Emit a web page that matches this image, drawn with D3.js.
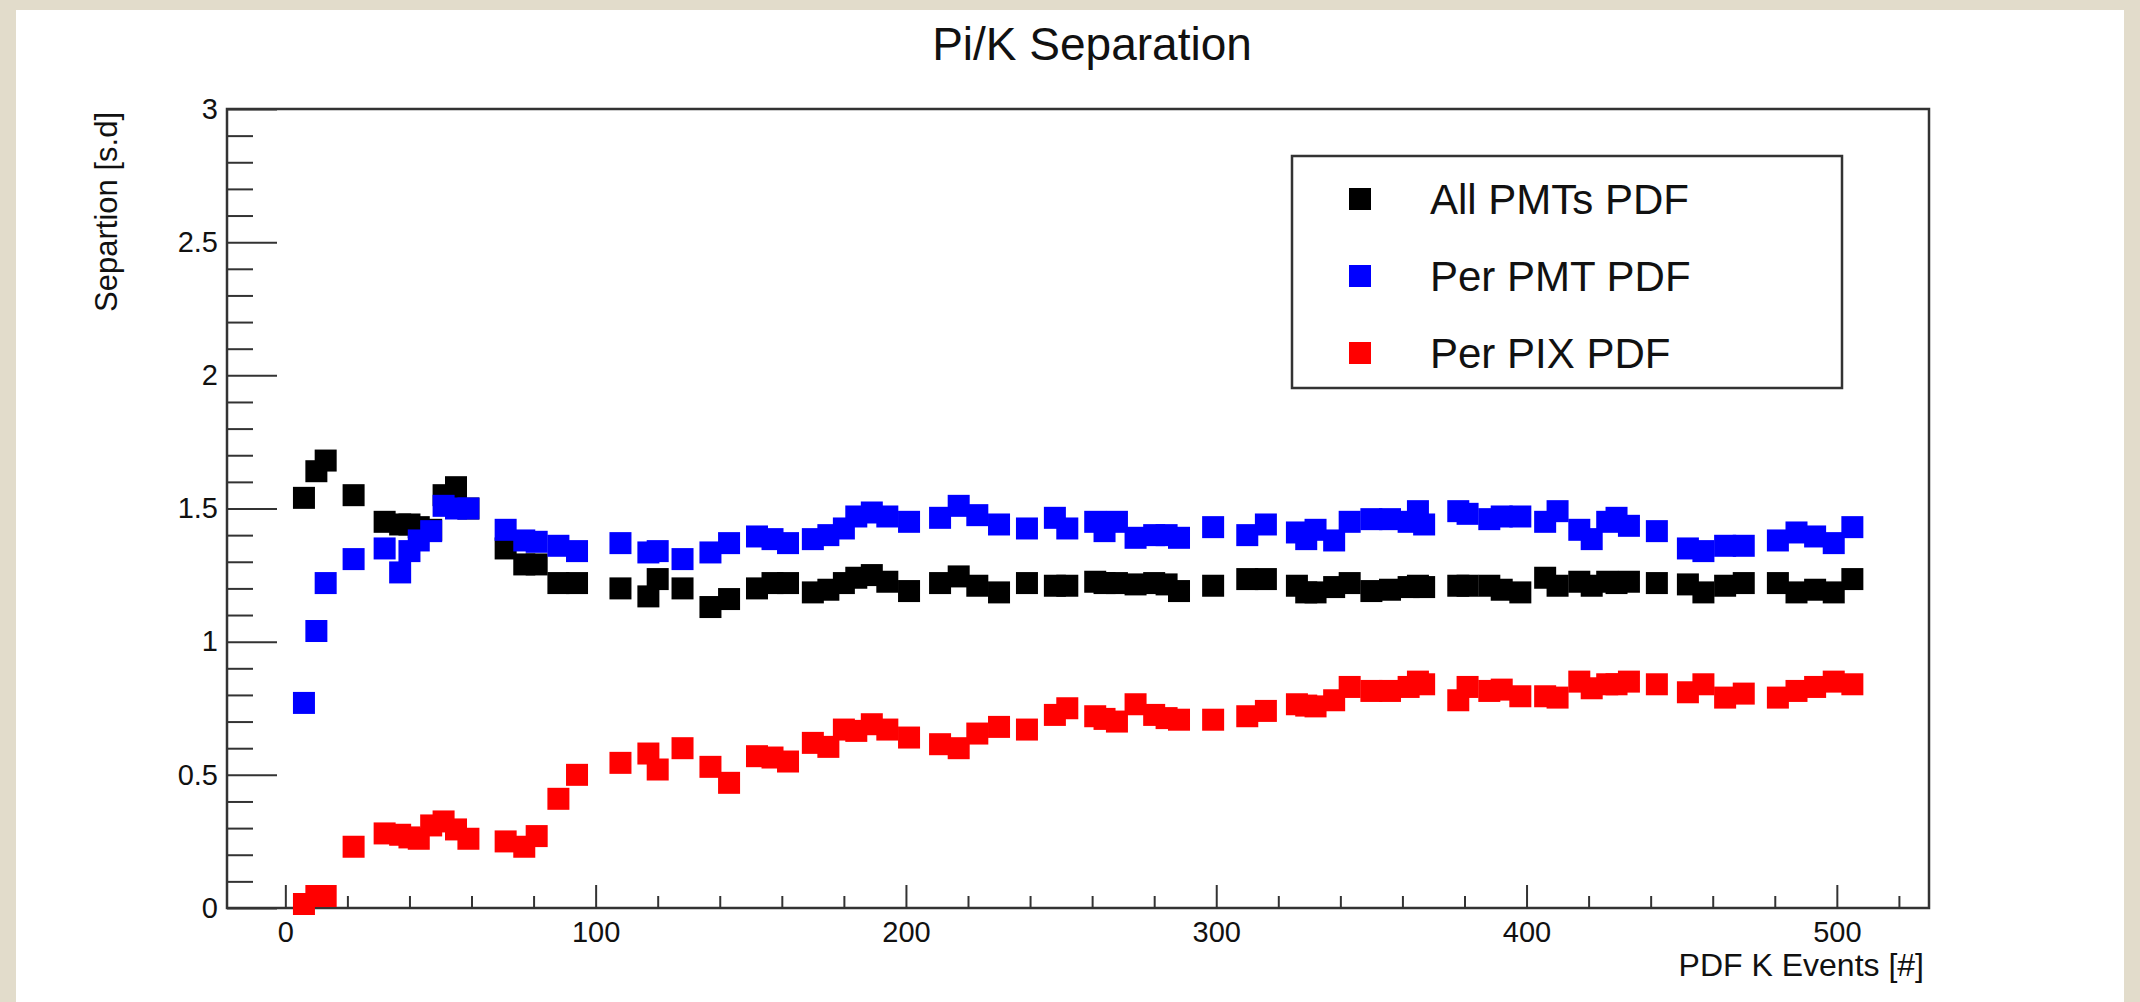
<!DOCTYPE html>
<html>
<head>
<meta charset="utf-8">
<script src="https://cdn.jsdelivr.net/npm/d3@7"></script>
<style>
    body { margin: 0; background: #e2dccb; }
    svg { display: block; }
    text { font-family: "Liberation Sans", Arial, Helvetica, sans-serif; fill: #111; }
</style>
</head>
<body>
<svg id="chart" width="2140" height="1002"></svg>
<script>
// PDF K events (x) shared by all three series
const kEvents = [6, 10, 13, 22, 32, 37, 40, 43, 47, 51, 55, 59, 71, 77, 81, 88, 94, 108, 117, 120,
    128, 137, 143, 152, 157, 162, 170, 175, 180, 184, 189, 194, 201, 211, 217, 223, 230, 239, 248, 252,
    261, 264, 268, 274, 280, 284, 288, 299, 310, 316, 326, 329, 332, 338, 343, 350, 356, 362, 365, 367,
    378, 381, 388, 392, 398, 406, 410, 417, 421, 426, 429, 433, 442, 452, 457, 464, 470, 481, 487, 493,
    499, 505];

const allPmtsPdf = [1.54, 1.64, 1.68, 1.55, 1.45, 1.44, 1.44, 1.43, 1.42, 1.55, 1.58, 1.50, 1.35, 1.29, 1.29, 1.22, 1.22, 1.20, 1.17, 1.235,
    1.20, 1.13, 1.16, 1.20, 1.22, 1.22, 1.185, 1.195, 1.22, 1.24, 1.25, 1.225, 1.19, 1.22, 1.245, 1.21, 1.185, 1.22, 1.21, 1.21,
    1.225, 1.22, 1.22, 1.215, 1.22, 1.215, 1.19, 1.21, 1.235, 1.235, 1.21, 1.185, 1.185, 1.205, 1.22, 1.19, 1.195, 1.205, 1.21, 1.205,
    1.21, 1.21, 1.21, 1.195, 1.185, 1.24, 1.21, 1.225, 1.21, 1.225, 1.22, 1.225, 1.22, 1.215, 1.185, 1.21, 1.22, 1.22, 1.185, 1.195,
    1.185, 1.235];

const perPmtPdf = [0.77, 1.04, 1.22, 1.31, 1.35, 1.26, 1.34, 1.38, 1.415, 1.51, 1.50, 1.50, 1.42, 1.38, 1.375, 1.36, 1.34, 1.37, 1.335, 1.34,
    1.31, 1.335, 1.37, 1.395, 1.385, 1.37, 1.385, 1.40, 1.425, 1.47, 1.485, 1.47, 1.45, 1.465, 1.51, 1.475, 1.44, 1.425, 1.465, 1.425,
    1.45, 1.415, 1.45, 1.39, 1.40, 1.40, 1.39, 1.43, 1.40, 1.44, 1.41, 1.385, 1.42, 1.38, 1.45, 1.46, 1.46, 1.45, 1.49, 1.44,
    1.49, 1.48, 1.46, 1.47, 1.47, 1.45, 1.49, 1.42, 1.385, 1.45, 1.465, 1.435, 1.415, 1.35, 1.34, 1.36, 1.36, 1.38, 1.41, 1.395,
    1.37, 1.43];

const perPixPdf = [0.015, 0.045, 0.045, 0.23, 0.28, 0.275, 0.265, 0.26, 0.31, 0.325, 0.295, 0.26, 0.25, 0.23, 0.27, 0.41, 0.50, 0.545, 0.58, 0.52,
    0.60, 0.53, 0.47, 0.57, 0.565, 0.55, 0.62, 0.605, 0.67, 0.665, 0.69, 0.67, 0.64, 0.615, 0.60, 0.655, 0.68, 0.67, 0.725, 0.75,
    0.72, 0.71, 0.70, 0.765, 0.725, 0.713, 0.707, 0.707, 0.72, 0.74, 0.765, 0.76, 0.757, 0.78, 0.83, 0.815, 0.815, 0.83, 0.85, 0.84,
    0.78, 0.83, 0.815, 0.82, 0.795, 0.795, 0.79, 0.85, 0.825, 0.84, 0.84, 0.85, 0.84, 0.81, 0.84, 0.79, 0.805, 0.79, 0.815, 0.83,
    0.85, 0.84];

const seriesNames = ["All PMTs PDF", "Per PMT PDF", "Per PIX PDF"];
const seriesColors = ["#000000", "#0000ff", "#ff0000"];

const xMajorTicks = [0, 100, 200, 300, 400, 500];
const xMinorTicks = [20, 40, 60, 80, 120, 140, 160, 180, 220, 240, 260, 280, 320, 340, 360, 380, 420, 440, 460, 480, 520];
const yMajorTicks = [0, 0.5, 1, 1.5, 2, 2.5, 3];
const yMinorTicks = [0.1, 0.2, 0.3, 0.4, 0.6, 0.7, 0.8, 0.9, 1.1, 1.2, 1.3, 1.4, 1.6, 1.7, 1.8, 1.9,
    2.1, 2.2, 2.3, 2.4, 2.6, 2.7, 2.8, 2.9];

const plot = {left: 227, right: 1929, top: 109, bottom: 908};
const markerSize = 22;
const lineColor = "#333";

let svg = d3.select("#chart");

// white page over the linen background
svg.append("rect")
    .attr("x", 16).attr("y", 10)
    .attr("width", 2108).attr("height", 992)
    .style("fill", "white");

let x = d3.scaleLinear().domain([-18.8, 529.7]).range([plot.left, plot.right]);
let y = d3.scaleLinear().domain([0, 3]).range([plot.bottom, plot.top]);

// minor ticks first, then majors with labels
svg.append("g")
    .attr("transform", `translate(0,${plot.bottom})`)
    .call(d3.axisBottom(x).tickValues(xMinorTicks).tickSize(-12).tickFormat(""));
svg.append("g")
    .attr("class", "xaxis")
    .attr("transform", `translate(0,${plot.bottom})`)
    .call(d3.axisBottom(x).tickValues(xMajorTicks).tickSize(-23).tickPadding(13).tickFormat(d3.format("d")));

svg.append("g")
    .attr("transform", `translate(${plot.left},0)`)
    .call(d3.axisLeft(y).tickValues(yMinorTicks).tickSize(-26).tickFormat(""));
svg.append("g")
    .attr("class", "yaxis")
    .attr("transform", `translate(${plot.left},0)`)
    .call(d3.axisLeft(y).tickValues(yMajorTicks).tickSize(-50).tickPadding(9).tickFormat(d => d3.format("")(d)));

svg.selectAll(".domain").remove();
svg.selectAll(".tick line").style("stroke", lineColor).style("stroke-width", 2);
svg.selectAll(".xaxis text, .yaxis text").style("font-size", "29px").style("fill", "#111");

// frame
svg.append("rect")
    .attr("x", plot.left).attr("y", plot.top)
    .attr("width", plot.right - plot.left).attr("height", plot.bottom - plot.top)
    .style("fill", "none")
    .style("stroke", lineColor)
    .style("stroke-width", 2.5);

// markers
let series = [allPmtsPdf, perPmtPdf, perPixPdf];
series.forEach(function (values, i) {
    let points = kEvents.map((k, j) => ({k: k, v: values[j]}));
    svg.append("g")
        .selectAll("rect")
        .data(points)
        .join("rect")
        .attr("x", d => x(d.k) - markerSize / 2)
        .attr("y", d => y(d.v) - markerSize / 2)
        .attr("width", markerSize)
        .attr("height", markerSize)
        .style("fill", seriesColors[i]);
});

// title and axis titles
svg.append("text")
    .attr("x", 1092).attr("y", 60)
    .attr("text-anchor", "middle")
    .style("font-size", "46px")
    .text("Pi/K Separation");

svg.append("text")
    .attr("x", 1924).attr("y", 976)
    .attr("text-anchor", "end")
    .style("font-size", "32px")
    .text("PDF K Events [#]");

svg.append("text")
    .attr("transform", "translate(117,112) rotate(-90)")
    .attr("text-anchor", "end")
    .style("font-size", "31px")
    .text("Separtion [s.d]");

// legend
const legendBox = {x: 1292, y: 156, w: 550, h: 232};
let legend = svg.append("g");
legend.append("rect")
    .attr("x", legendBox.x).attr("y", legendBox.y)
    .attr("width", legendBox.w).attr("height", legendBox.h)
    .style("fill", "white")
    .style("stroke", lineColor)
    .style("stroke-width", 2.5);

let rows = legend.selectAll("g.row")
    .data(seriesNames)
    .join("g")
    .attr("class", "row")
    .attr("transform", (d, i) => `translate(${legendBox.x}, ${legendBox.y + 43 + i * 77})`);

rows.append("rect")
    .attr("x", 68 - markerSize / 2)
    .attr("y", -markerSize / 2)
    .attr("width", markerSize)
    .attr("height", markerSize)
    .style("fill", (d, i) => seriesColors[i]);

rows.append("text")
    .attr("x", 138)
    .attr("y", 15)
    .style("font-size", "42px")
    .text(d => d);
</script>
</body>
</html>
